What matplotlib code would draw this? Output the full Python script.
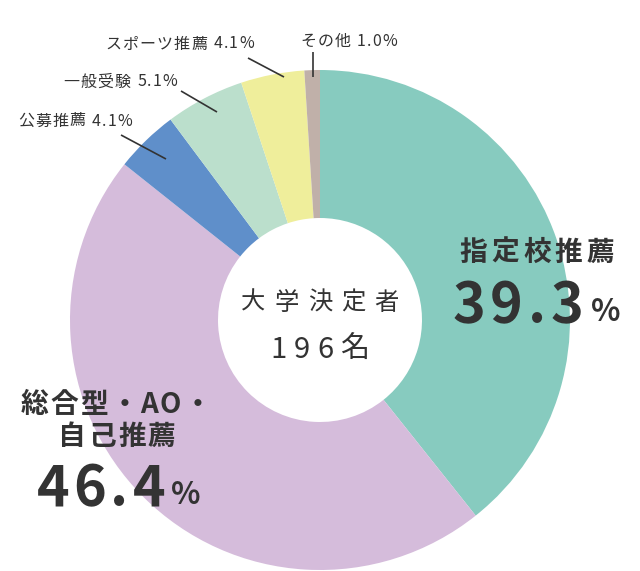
import matplotlib
matplotlib.use("Agg")
import matplotlib.pyplot as plt

plt.rcParams['font.family'] = ['Noto Sans CJK JP', 'DejaVu Sans']

categories = ['指定校推薦', '総合型・AO・自己推薦', '公募推薦', '一般受験', 'スポーツ推薦', 'その他']
values = [39.3, 46.4, 4.1, 5.1, 4.1, 1.0]
colors = ['#87CBBF', '#D5BCDB', '#5F8FCA', '#BBDFCC', '#EFEE9B', '#C0B0A9']
center_title = '大学決定者'
center_count = '196名'
TXT = '#333333'

W, H = 640, 571
fig = plt.figure(figsize=(W / 100, H / 100), dpi=100)
ax = fig.add_axes([0, 0, 1, 1])

cx, cy = 320, 320
# pie in a y-down frame: counterclock=True visually becomes clockwise
ax.pie(values, colors=colors, startangle=-90, counterclock=True,
       center=(cx, cy), radius=250, frame=True,
       wedgeprops=dict(width=148, linewidth=0))
ax.set_xlim(0, W)
ax.set_ylim(H, 0)
ax.axis('off')
ax.set_aspect('equal')

fig.canvas.draw()
renderer = fig.canvas.get_renderer()


def spaced(text, x, y, size, weight='normal', spacing=0.0, ha='center'):
    """Draw text char by char with extra tracking (spacing in px)."""
    objs = []
    widths = []
    for ch in text:
        t = ax.text(0, y, ch, fontsize=size, fontweight=weight, color=TXT,
                    ha='left', va='center')
        bb = t.get_window_extent(renderer)
        objs.append(t)
        widths.append(bb.width if ch != ' ' else size * 0.35)
    total = sum(widths) + spacing * (len(text) - 1)
    if ha == 'center':
        start = x - total / 2
    elif ha == 'left':
        start = x
    else:
        start = x - total
    pos = start
    for t, w in zip(objs, widths):
        t.set_x(pos)
        pos += w + spacing
    return start, start + total


# center text
spaced(center_title, cx, 303, 17.5, spacing=9)
spaced(center_count, cx, 350, 21, spacing=7)

# big labels
spaced(categories[0], 537, 253, 20, weight='bold', spacing=4)
s, e = spaced(f'{values[0]}', 518, 306, 40, weight='bold', spacing=5)
ax.text(e + 7, 312, '%', fontsize=22, fontweight='bold', color=TXT, ha='left', va='center')

spaced('総合型・AO・', 116, 405, 20, weight='bold', spacing=2)
spaced('自己推薦', 117, 437, 20, weight='bold', spacing=2)
s, e = spaced(f'{values[1]}', 101, 489, 40, weight='bold', spacing=4)
ax.text(e + 6, 495, '%', fontsize=22, fontweight='bold', color=TXT, ha='left', va='center')

# small labels with leader lines
small = [
    (2, 18, 121, (121, 135), (166, 159)),
    (3, 63, 82, (181, 91), (217, 112)),
    (4, 105, 44, (248, 58), (284, 77)),
    (5, 300, 41, (313, 52), (313, 77)),
]
for idx, tx, ty, p0, p1 in small:
    spaced(f'{categories[idx]} {values[idx]}%', tx, ty, 11.5, spacing=1.2, ha='left')
    ax.plot([p0[0], p1[0]], [p0[1], p1[1]], color=TXT, lw=1.2, solid_capstyle='butt')

fig.savefig('out.png', dpi=100)
